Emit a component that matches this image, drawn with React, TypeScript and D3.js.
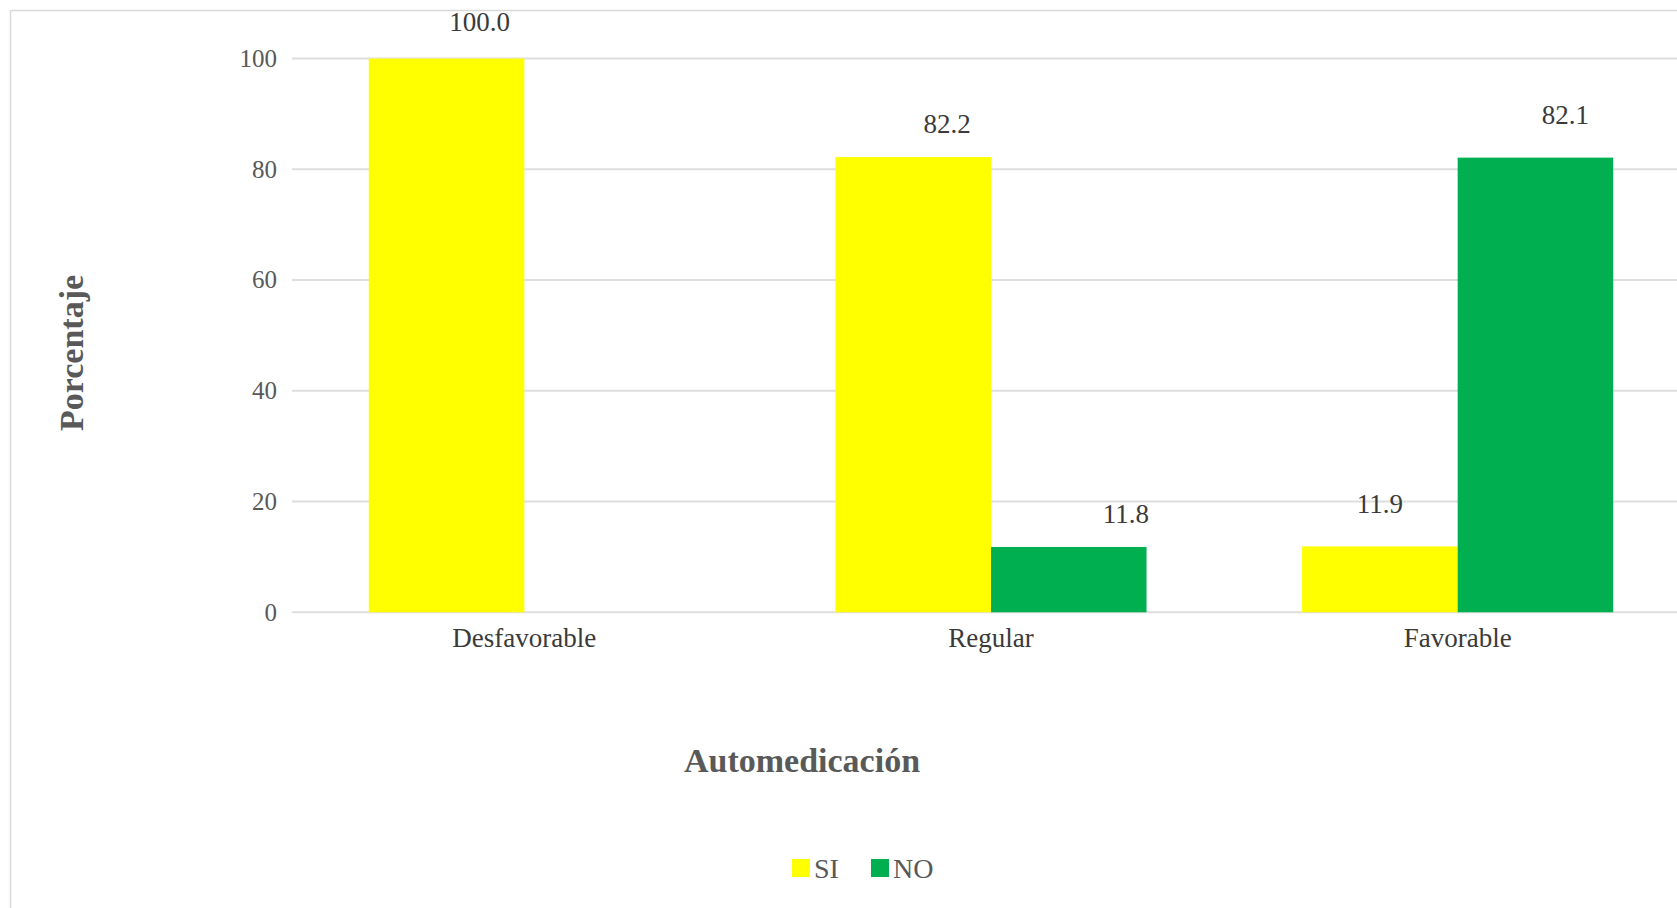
import React, { useEffect } from 'react';
import * as d3 from 'd3';

// data
const categories = ['Desfavorable', 'Regular', 'Favorable'];
const series = ['SI', 'NO'];
const siValues = [100.0, 82.2, 11.9];
const noValues = [0, 11.8, 82.1];
const yTicks = [0, 20, 40, 60, 80, 100];

// hand-placed label nudges (px) as in the original chart
const siLabelNudge = [[33, -4], [34, 0], [0, -9]];
const noLabelNudge = [[0, 0], [57, 0], [30, -10]];

const colors = { SI: '#FFFF00', NO: '#00B050' };

const W = 1677;
const H = 908;
const FONT = '"Liberation Serif", "Times New Roman", serif';

export default function App() {
  useEffect(() => {
    document.body.style.margin = '0';
  }, []);

  const x0 = d3.scaleBand().domain(categories).range([291, 1691]).paddingInner(0).paddingOuter(0);
  const x1 = d3.scaleBand().domain(series).range([0, x0.bandwidth()]).paddingInner(0).paddingOuter(0.5);
  const y = d3.scaleLinear().domain([0, 100]).range([612.3, 58.5]);

  const bars = categories.flatMap((c, i) => [
    { cat: c, key: 'SI', value: siValues[i], nudge: siLabelNudge[i] },
    { cat: c, key: 'NO', value: noValues[i], nudge: noLabelNudge[i] },
  ]);

  return (
    <svg width={W} height={H} style={{ display: 'block', background: '#fff' }}>
      {/* chart area border */}
      <rect x={10.5} y={10.5} width={1800} height={1000} fill="#fff" stroke="#d9d9d9" strokeWidth={1.5} />

      {/* gridlines + y ticks */}
      {yTicks.map(t => (
        <g key={t}>
          <line x1={292} x2={W} y1={y(t)} y2={y(t)} stroke="#dedede" strokeWidth={2} />
          <text x={277} y={y(t)} dy="0.33em" textAnchor="end" fontFamily={FONT} fontSize={25} fill="#595959">
            {t}
          </text>
        </g>
      ))}

      {/* bars */}
      {bars.filter(b => b.value > 0).map(b => (
        <rect
          key={b.cat + b.key}
          x={(x0(b.cat) ?? 0) + (x1(b.key) ?? 0)}
          y={y(b.value)}
          width={x1.bandwidth()}
          height={y(0) - y(b.value)}
          fill={colors[b.key]}
        />
      ))}

      {/* value labels */}
      {bars.filter(b => b.value > 0).map(b => (
        <text
          key={'l' + b.cat + b.key}
          x={(x0(b.cat) ?? 0) + (x1(b.key) ?? 0) + x1.bandwidth() / 2 + b.nudge[0]}
          y={y(b.value) - 24 + b.nudge[1]}
          textAnchor="middle"
          fontFamily={FONT}
          fontSize={27}
          fill="#3a3a3a"
        >
          {b.value.toFixed(1)}
        </text>
      ))}

      {/* category labels */}
      {categories.map(c => (
        <text
          key={c}
          x={(x0(c) ?? 0) + x0.bandwidth() / 2}
          y={647}
          textAnchor="middle"
          fontFamily={FONT}
          fontSize={27}
          fill="#3a3a3a"
        >
          {c}
        </text>
      ))}

      {/* axis titles */}
      <text x={802} y={772} textAnchor="middle" fontFamily={FONT} fontSize={34} fontWeight="bold" fill="#595959">
        Automedicación
      </text>
      <text
        transform="translate(83,353) rotate(-90)"
        textAnchor="middle"
        fontFamily={FONT}
        fontSize={34}
        fontWeight="bold"
        fill="#595959"
      >
        Porcentaje
      </text>

      {/* legend */}
      {series.map((s, i) => {
        const lx = 792 + i * 79;
        return (
          <g key={s}>
            <rect x={lx} y={859} width={18} height={18} fill={colors[s]} />
            <text x={lx + 22} y={878} fontFamily={FONT} fontSize={28} fill="#595959">
              {s}
            </text>
          </g>
        );
      })}
    </svg>
  );
}
